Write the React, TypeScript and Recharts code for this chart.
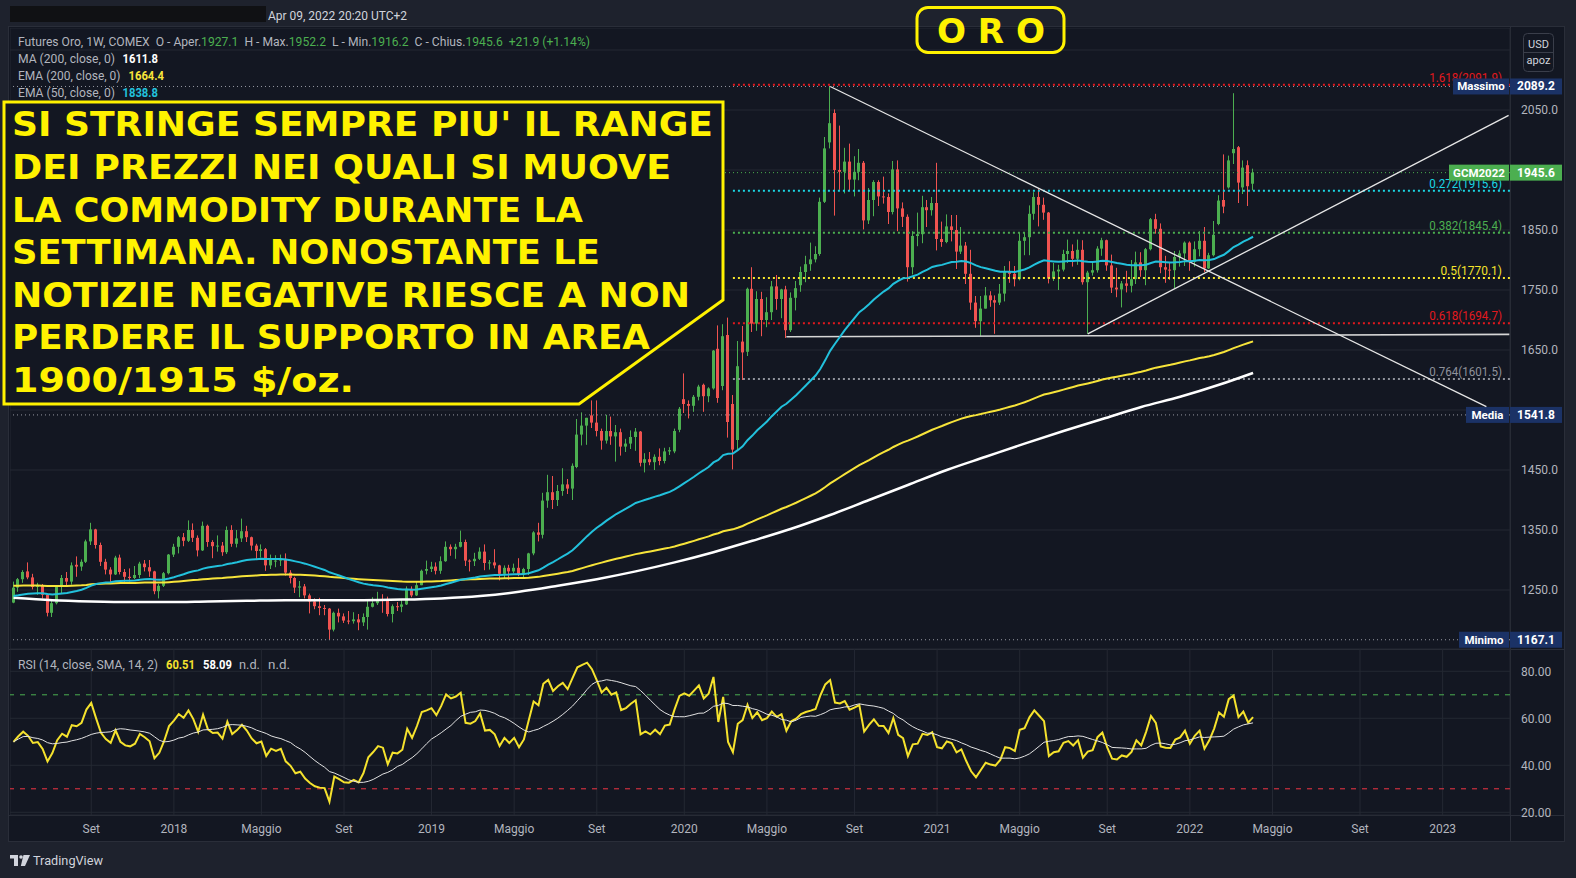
import React from "react";
import {
  ComposedChart,
  Bar,
  Line,
  XAxis,
  YAxis,
  CartesianGrid,
  ReferenceLine,
} from "recharts";

// Weekly bars (Monday dates) from 15 May 2017 to 4 Apr 2022
const FIRST_BAR = Date.UTC(2017, 4, 15);
const WEEK_MS = 7 * 24 * 60 * 60 * 1000;

const opens = [
  // 2017
  1229, 1254, 1268, 1281, 1271, 1255, 1257, 1242, 1212, 1228, 1255, 1270, 1264, 1292, 1289, 1297, 1331,
  1351, 1325, 1297, 1284, 1276, 1304, 1280, 1272, 1270, 1275, 1294, 1288, 1281, 1248, 1257, 1278,
  // 2018
  1309, 1322, 1338, 1332, 1350, 1337, 1316, 1357, 1330, 1323, 1324, 1313, 1350, 1327, 1336, 1348, 1338,
  1324, 1315, 1318, 1291, 1298, 1299, 1302, 1279, 1270, 1254, 1256, 1241, 1231, 1223, 1220, 1219, 1184,
  1212, 1206, 1199, 1198, 1201, 1196, 1205, 1222, 1228, 1235, 1233, 1210, 1223, 1222, 1226, 1252, 1241, 1258,
  // 2019
  1282, 1285, 1289, 1282, 1298, 1322, 1318, 1322, 1330, 1299, 1298, 1302, 1314, 1295, 1296, 1291, 1277,
  1287, 1281, 1287, 1276, 1285, 1311, 1346, 1342, 1399, 1413, 1400, 1415, 1426, 1419, 1455, 1509, 1524,
  1541, 1529, 1515, 1499, 1515, 1506, 1513, 1489, 1494, 1505, 1514, 1462, 1468, 1463, 1472, 1465, 1481, 1481,
  // 2020
  1517, 1568, 1560, 1557, 1572, 1592, 1573, 1586, 1652, 1590, 1675, 1560, 1500, 1664, 1647, 1752, 1694,
  1735, 1700, 1713, 1756, 1735, 1751, 1683, 1737, 1758, 1780, 1793, 1801, 1810, 1897, 1996, 2045, 1950,
  1947, 1964, 1934, 1947, 1962, 1866, 1900, 1930, 1906, 1905, 1880, 1951, 1886, 1872, 1788, 1840, 1843,
  1888, 1883,
  // 2021
  1895, 1835, 1830, 1856, 1850, 1814, 1824, 1777, 1729, 1698, 1719, 1741, 1733, 1729, 1744, 1780, 1777,
  1768, 1832, 1838, 1877, 1905, 1892, 1879, 1769, 1781, 1784, 1810, 1815, 1802, 1817, 1763, 1779, 1783,
  1819, 1833, 1791, 1754, 1751, 1761, 1757, 1768, 1796, 1783, 1818, 1868, 1852, 1788, 1784, 1783, 1805, 1811,
  // 2022
  1829, 1797, 1818, 1832, 1786, 1808, 1860, 1900, 1921, 1978, 1988, 1921, 1958, 1927.1,
];

const highs = [
  1264, 1270, 1283, 1296, 1277, 1262, 1260, 1244, 1232, 1257, 1275, 1280, 1296, 1306, 1301, 1334, 1362,
  1352, 1329, 1302, 1288, 1307, 1309, 1285, 1286, 1290, 1297, 1300, 1300, 1282, 1260, 1280, 1310,
  1327, 1340, 1345, 1366, 1361, 1341, 1364, 1359, 1333, 1341, 1330, 1356, 1358, 1350, 1369, 1357, 1339,
  1327, 1326, 1320, 1309, 1308, 1309, 1311, 1283, 1272, 1265, 1260, 1244, 1236, 1237, 1225, 1220, 1214,
  1219, 1211, 1215, 1213, 1210, 1211, 1233, 1238, 1247, 1243, 1239, 1226, 1230, 1233, 1256, 1256, 1265, 1284,
  1299, 1297, 1296, 1306, 1331, 1326, 1327, 1349, 1334, 1301, 1312, 1321, 1326, 1300, 1318, 1292, 1291,
  1292, 1294, 1303, 1287, 1312, 1348, 1362, 1412, 1442, 1440, 1425, 1453, 1435, 1461, 1535, 1546, 1537,
  1566, 1566, 1519, 1542, 1539, 1525, 1519, 1502, 1516, 1520, 1515, 1478, 1480, 1476, 1486, 1487, 1488, 1519,
  1555, 1611, 1566, 1575, 1592, 1594, 1588, 1650, 1691, 1693, 1704, 1575, 1665, 1690, 1754, 1788, 1748,
  1747, 1738, 1765, 1775, 1752, 1757, 1746, 1765, 1789, 1807, 1829, 1823, 1904, 2005, 2089.2, 2051, 2024,
  1987, 1994, 1973, 1985, 1965, 1920, 1933, 1933, 1939, 1911, 1965, 1966, 1896, 1876, 1848, 1879, 1907,
  1900, 1905,
  1962, 1864, 1876, 1875, 1875, 1855, 1830, 1817, 1740, 1740, 1755, 1748, 1741, 1760, 1790, 1798, 1790,
  1845, 1846, 1891, 1913, 1919, 1904, 1880, 1795, 1792, 1817, 1834, 1826, 1834, 1833, 1782, 1795, 1823,
  1837, 1834, 1809, 1787, 1765, 1782, 1800, 1814, 1813, 1820, 1870, 1877, 1861, 1807, 1795, 1815, 1816, 1831,
  1831, 1831, 1848, 1855, 1812, 1865, 1908, 1976, 1974, 2078, 1990, 1966, 1966, 1952.2,
];

const lows = [
  1228, 1247, 1262, 1268, 1251, 1242, 1236, 1206, 1205, 1226, 1244, 1256, 1259, 1272, 1282, 1295, 1325,
  1319, 1290, 1276, 1262, 1275, 1276, 1263, 1264, 1268, 1270, 1281, 1272, 1243, 1236, 1255, 1276,
  1305, 1311, 1323, 1330, 1330, 1306, 1315, 1322, 1303, 1314, 1307, 1310, 1322, 1321, 1330, 1330, 1316,
  1302, 1304, 1282, 1285, 1288, 1290, 1274, 1261, 1245, 1238, 1236, 1211, 1218, 1208, 1208, 1167.1, 1181,
  1196, 1195, 1193, 1194, 1183, 1190, 1184, 1221, 1225, 1212, 1206, 1196, 1215, 1213, 1225, 1238, 1240, 1258,
  1276, 1280, 1276, 1277, 1297, 1307, 1302, 1321, 1290, 1281, 1290, 1300, 1283, 1284, 1286, 1266, 1270,
  1267, 1278, 1273, 1270, 1275, 1308, 1331, 1336, 1387, 1385, 1390, 1407, 1410, 1400, 1453, 1491, 1492,
  1520, 1506, 1484, 1494, 1492, 1464, 1474, 1480, 1485, 1482, 1456, 1446, 1458, 1450, 1458, 1461, 1475, 1478,
  1513, 1545, 1536, 1547, 1566, 1547, 1563, 1584, 1562, 1583, 1504, 1451, 1482, 1600, 1640, 1680, 1682,
  1673, 1688, 1700, 1717, 1703, 1670, 1680, 1716, 1747, 1763, 1782, 1796, 1807, 1895, 1986, 1874, 1917,
  1911, 1916, 1906, 1933, 1851, 1860, 1873, 1890, 1894, 1860, 1876, 1848, 1855, 1764, 1776, 1823, 1828,
  1855, 1874,
  1816, 1822, 1828, 1831, 1785, 1810, 1760, 1717, 1687, 1673, 1719, 1722, 1677, 1725, 1731, 1762, 1756,
  1766, 1808, 1808, 1867, 1856, 1867, 1761, 1765, 1750, 1781, 1795, 1789, 1792, 1759, 1677, 1774, 1779,
  1807, 1782, 1745, 1738, 1721, 1746, 1746, 1760, 1772, 1758, 1816, 1844, 1778, 1762, 1767, 1753, 1789, 1790,
  1782, 1789, 1806, 1780, 1785, 1806, 1858, 1878, 1919, 1960, 1895, 1910, 1890, 1916.2,
];

const closes = [
  1254, 1268, 1280, 1271, 1255, 1257, 1242, 1212, 1228, 1255, 1270, 1264, 1291, 1289, 1297, 1331, 1351,
  1325, 1297, 1284, 1276, 1304, 1280, 1272, 1270, 1275, 1294, 1288, 1281, 1248, 1257, 1278, 1309,
  1322, 1338, 1332, 1350, 1337, 1316, 1357, 1330, 1323, 1324, 1313, 1350, 1327, 1336, 1348, 1338, 1324,
  1315, 1318, 1291, 1303, 1299, 1302, 1279, 1270, 1254, 1256, 1241, 1231, 1223, 1220, 1219, 1184, 1212,
  1206, 1199, 1198, 1201, 1196, 1205, 1222, 1228, 1235, 1233, 1210, 1223, 1222, 1226, 1252, 1241, 1258, 1282,
  1285, 1289, 1282, 1298, 1322, 1318, 1322, 1330, 1299, 1298, 1302, 1314, 1295, 1296, 1291, 1277, 1287,
  1281, 1287, 1276, 1285, 1311, 1346, 1342, 1399, 1413, 1400, 1415, 1426, 1419, 1457, 1509, 1524, 1537,
  1529, 1515, 1499, 1515, 1506, 1513, 1489, 1494, 1505, 1514, 1462, 1468, 1463, 1472, 1465, 1481, 1483, 1515,
  1552, 1560, 1557, 1572, 1589, 1573, 1586, 1649, 1570, 1673, 1530, 1484, 1623, 1646, 1752, 1694, 1735,
  1700, 1713, 1756, 1735, 1751, 1683, 1737, 1753, 1780, 1793, 1801, 1810, 1897, 1986, 2028, 1950, 1947,
  1964, 1934, 1947, 1962, 1866, 1900, 1930, 1906, 1905, 1880, 1951, 1886, 1872, 1788, 1840, 1843, 1888,
  1883, 1895,
  1835, 1830, 1856, 1850, 1814, 1824, 1777, 1729, 1698, 1719, 1741, 1733, 1729, 1744, 1780, 1777, 1768,
  1832, 1838, 1877, 1905, 1892, 1879, 1769, 1781, 1784, 1810, 1815, 1802, 1817, 1763, 1779, 1783, 1819,
  1833, 1791, 1754, 1751, 1761, 1757, 1768, 1796, 1783, 1818, 1868, 1852, 1788, 1784, 1783, 1805, 1811, 1829,
  1797, 1818, 1832, 1786, 1808, 1842, 1899, 1889, 1966, 1985, 1929, 1954, 1923, 1945.6,
];

// MA(200) sampled every 8th bar, last entry is the final bar
const MA200_STEP = 8;
const ma200Samples = [
  1237, 1233, 1231, 1230, 1230, 1231, 1232, 1233, 1233, 1233, 1234, 1236, 1240, 1247, 1257, 1268, 1281,
  1296, 1313, 1332, 1352, 1375, 1400, 1425, 1450, 1472, 1494, 1515, 1535, 1555, 1572, 1592, 1611.8,
];

// EMA starting levels at the first bar
const EMA50_START = 1240;
const EMA200_START = 1257;
const RSI_SEED_GAIN = 11;
const RSI_SEED_LOSS = 11;

const tickDates = [
  "2017-09-04", "2018-01-01", "2018-05-07", "2018-09-03", "2019-01-07", "2019-05-06", "2019-09-02",
  "2020-01-06", "2020-05-04", "2020-09-07", "2021-01-04", "2021-05-03", "2021-09-06", "2022-01-03",
  "2022-05-02", "2022-09-05", "2023-01-02",
];
const tickLabels = [
  "Set", "2018", "Maggio", "Set", "2019", "Maggio", "Set", "2020", "Maggio", "Set", "2021", "Maggio",
  "Set", "2022", "Maggio", "Set", "2023",
];

const priceTicks = [1250, 1350, 1450, 1550, 1650, 1750, 1850, 1950, 2050, 2150];
const coveredPriceTicks = [1550, 1950, 2150];
const rsiTicks = [20, 40, 60, 80];

const fibTexts = ["1.618(2091.9)", "0.272(1915.6)", "0.382(1845.4)", "0.5(1770.1)", "0.618(1694.7)", "0.764(1601.5)"];
const fibPrices = [2091.9, 1915.6, 1845.4, 1770.1, 1694.7, 1601.5];
const fibColors = ["#e3191e", "#1ad8e6", "#4caf50", "#f5e42b", "#e3191e", "#8f929b"];
const FIB_FROM = "2020-03-16";

const badgeNames = ["Massimo", "GCM2022", "Media", "Minimo"];
const badgePrices = [2089.2, 1945.6, 1541.8, 1167.1];
const badgeWidths = [56, 60, 43, 50];

// hand-drawn trend lines: [date, price] -> [date, price]
const trendLines: [string, number, string, number][] = [
  ["2020-08-03", 2089.2, "2023-03-06", 1555.5],
  ["2021-08-09", 1677, "2023-04-07", 2041],
];
const supportLine: [string, number, string, number] = ["2020-06-01", 1672, "2023-04-08", 1676];

// symbol legend: [text, colour key] pieces of the first line
const headerPieces: [string, "label" | "value"][] = [
  ["Futures Oro, 1W, COMEX  O - Aper.", "label"],
  ["1927.1", "value"],
  ["  H - Max.", "label"],
  ["1952.2", "value"],
  ["  L - Min.", "label"],
  ["1916.2", "value"],
  ["  C - Chius.", "label"],
  ["1945.6", "value"],
  ["  +21.9 (+1.14%)", "value"],
];

const noteLines = [
  "SI STRINGE SEMPRE PIU' IL RANGE",
  "DEI PREZZI NEI QUALI SI MUOVE",
  "LA COMMODITY DURANTE LA",
  "SETTIMANA. NONOSTANTE LE",
  "NOTIZIE NEGATIVE RIESCE A NON",
  "PERDERE IL SUPPORTO IN AREA",
  "1900/1915 $/oz.",
];
const noteWidths = [701, 659, 571, 588, 678, 638, 342];

const X_MIN = Date.UTC(2017, 4, 10);
const X_MAX = Date.UTC(2023, 3, 9);
const PRICE_MIN = 1151.67;
const PRICE_MAX = 2186.67;
const RSI_MIN = 18.85;
const RSI_MAX = 89.49;

const BG_OUTER = "#1e222d";
const BG_PANE = "#131722";
const BORDER = "#2a2e39";
const GRID = "#242833";
const TEXT = "#b2b5be";
const UP = "#4caf50";
const DOWN = "#f05350";
const NAVY = "#1b3266";
const NOTE_YELLOW = "#fff200";
const FONT = "Roboto, 'Noto Sans', sans-serif";

const tickTimes = tickDates.map((d) => Date.parse(d));

function emaSeries(values: number[], period: number, start: number) {
  const k = 2 / (period + 1);
  let prev = start;
  return values.map((v, i) => {
    if (i > 0) prev = prev + k * (v - prev);
    return prev;
  });
}

function rsiSeries(values: number[], period: number) {
  let gain = RSI_SEED_GAIN;
  let loss = RSI_SEED_LOSS;
  return values.map((v, i) => {
    if (i > 0) {
      const ch = v - values[i - 1];
      gain = (gain * (period - 1) + Math.max(ch, 0)) / period;
      loss = (loss * (period - 1) + Math.max(-ch, 0)) / period;
    }
    return loss === 0 ? 100 : 100 - 100 / (1 + gain / loss);
  });
}

function smaSeries(values: number[], period: number) {
  return values.map((_, i) => {
    const from = Math.max(0, i - period + 1);
    const part = values.slice(from, i + 1);
    return part.reduce((a, b) => a + b, 0) / part.length;
  });
}

const ema50 = emaSeries(closes, 50, EMA50_START);
const ema200 = emaSeries(closes, 200, EMA200_START);
const rsi = rsiSeries(closes, 14);
const rsiSma = smaSeries(rsi, 14);
const lastBar = closes.length - 1;

const rows = closes.map((c, i) => {
  let ma200: number | null = null;
  if (i === lastBar) ma200 = ma200Samples[ma200Samples.length - 1];
  else if (i % MA200_STEP === 0) ma200 = ma200Samples[i / MA200_STEP];
  return {
    t: FIRST_BAR + i * WEEK_MS,
    o: opens[i],
    h: highs[i],
    l: lows[i],
    c,
    range: [lows[i], highs[i]],
    ema50: ema50[i],
    ema200: ema200[i],
    ma200,
    rsi: rsi[i],
    rsiSma: rsiSma[i],
  };
});

function renderCandle(props: any) {
  const { x, y, width, height, payload } = props;
  if (x == null || y == null || !payload) return <g />;
  const { o, h, l, c } = payload;
  const color = c >= o ? UP : DOWN;
  const span = h - l;
  const k = span > 0 ? height / span : 0;
  const top = y + (h - Math.max(o, c)) * k;
  const bottom = y + (h - Math.min(o, c)) * k;
  const left = Math.floor(x + width / 2 - 1.5);
  return (
    <g>
      <rect x={left + 1} y={y} width={1} height={Math.max(height, 1)} fill={color} />
      <rect x={left} y={top} width={3} height={Math.max(bottom - top, 1)} fill={color} />
    </g>
  );
}

function PriceBadge(props: any) {
  const { viewBox, tag, amount, boxColor, boxW } = props;
  if (!viewBox) return null;
  const right = viewBox.x + viewBox.width;
  const y = viewBox.y;
  return (
    <g>
      <rect x={right - boxW - 1} y={y - 8} width={boxW} height={16} fill={boxColor} />
      <text
        x={right - 1 - boxW / 2}
        y={y + 4}
        fill="#ffffff"
        fontSize={11.5}
        fontWeight={700}
        fontFamily={FONT}
        textAnchor="middle"
      >
        {tag}
      </text>
      <rect x={right} y={y - 8} width={52} height={16} fill={boxColor} />
      <text x={right + 26} y={y + 4} fill="#ffffff" fontSize={12} fontWeight={700} fontFamily={FONT} textAnchor="middle">
        {amount}
      </text>
    </g>
  );
}

function FibTag(props: any) {
  const { viewBox, caption, tone } = props;
  if (!viewBox) return null;
  const right = viewBox.x + viewBox.width - 8;
  return (
    <text
      x={right}
      y={viewBox.y - 3}
      fill={tone}
      fontSize={12}
      fontFamily={FONT}
      textAnchor="end"
      textLength={caption.length * 5.6}
      lengthAdjust="spacingAndGlyphs"
    >
      {caption}
    </text>
  );
}

function Txt({ x, y, w, color, bold, children }: any) {
  return (
    <text
      x={x}
      y={y}
      fill={color}
      fontSize={12}
      fontWeight={bold ? 700 : 400}
      fontFamily={FONT}
      textLength={w}
      lengthAdjust="spacingAndGlyphs"
    >
      {children}
    </text>
  );
}

export default function App() {
  const labelFor = (t: number) => {
    const idx = tickTimes.indexOf(t);
    return idx >= 0 ? tickLabels[idx] : "";
  };

  return (
    <div
      style={{
        position: "absolute",
        left: 0,
        top: 0,
        width: 1576,
        height: 878,
        background: BG_OUTER,
        overflow: "hidden",
        fontFamily: FONT,
      }}
    >
      {/* chart frame and pane separators */}
      <div
        style={{
          position: "absolute",
          left: 8,
          top: 26,
          width: 1557,
          height: 816,
          background: BG_PANE,
          boxSizing: "border-box",
          border: `1px solid ${BORDER}`,
        }}
      />
      <div style={{ position: "absolute", left: 1510, top: 26, width: 1, height: 816, background: BORDER }} />
      <div style={{ position: "absolute", left: 8, top: 649, width: 1557, height: 1, background: BORDER }} />
      <div style={{ position: "absolute", left: 8, top: 815, width: 1557, height: 1, background: BORDER }} />

      {/* price pane */}
      <div style={{ position: "absolute", left: 10, top: 28 }}>
        <ComposedChart width={1555} height={621} data={rows} margin={{ top: 0, right: 0, bottom: 0, left: 0 }}>
          <CartesianGrid stroke={GRID} />
          <XAxis
            dataKey="t"
            type="number"
            domain={[X_MIN, X_MAX]}
            ticks={tickTimes}
            tick={false}
            tickLine={false}
            axisLine={false}
            height={0}
            allowDataOverflow
          />
          <YAxis
            orientation="right"
            width={55}
            domain={[PRICE_MIN, PRICE_MAX]}
            ticks={priceTicks}
            allowDataOverflow
            axisLine={false}
            tickLine={false}
            tickMargin={5}
            tick={{ fill: TEXT, fontSize: 12, fontFamily: FONT }}
            tickFormatter={(v: number) => (coveredPriceTicks.includes(v) ? "" : v.toFixed(1))}
          />

          {fibPrices.map((p, i) => (
            <ReferenceLine
              key={fibTexts[i]}
              segment={[
                { x: Date.parse(FIB_FROM), y: p },
                { x: X_MAX, y: p },
              ]}
              ifOverflow="visible"
              stroke={fibColors[i]}
              strokeWidth={2}
              strokeDasharray="2 3"
              label={<FibTag caption={fibTexts[i]} tone={fibColors[i]} />}
            />
          ))}

          {badgePrices.map((p, i) => (
            <ReferenceLine
              key={badgeNames[i]}
              y={p}
              stroke={i === 1 ? UP : "#9598a1"}
              strokeWidth={1}
              strokeDasharray="1 3"
              label={
                <PriceBadge
                  tag={badgeNames[i]}
                  amount={p.toFixed(1)}
                  boxColor={i === 1 ? UP : NAVY}
                  boxW={badgeWidths[i]}
                />
              }
            />
          ))}

          <ReferenceLine
            segment={[
              { x: Date.parse(supportLine[0]), y: supportLine[1] },
              { x: Date.parse(supportLine[2]), y: supportLine[3] },
            ]}
            ifOverflow="visible"
            stroke="#d6d6d6"
            strokeWidth={1.6}
          />
          {trendLines.map((tl, i) => (
            <ReferenceLine
              key={`trend-${i}`}
              segment={[
                { x: Date.parse(tl[0]), y: tl[1] },
                { x: Date.parse(tl[2]), y: tl[3] },
              ]}
              ifOverflow="visible"
              stroke="#e6e6e6"
              strokeWidth={1.3}
            />
          ))}

          <Bar dataKey="range" barSize={3} shape={renderCandle} isAnimationActive={false} />
          <Line
            dataKey="ma200"
            type="monotone"
            connectNulls
            stroke="#ffffff"
            strokeWidth={2.5}
            dot={false}
            isAnimationActive={false}
          />
          <Line dataKey="ema200" type="linear" stroke="#f7e43a" strokeWidth={2} dot={false} isAnimationActive={false} />
          <Line dataKey="ema50" type="linear" stroke="#22c1dc" strokeWidth={2} dot={false} isAnimationActive={false} />
        </ComposedChart>
      </div>

      {/* RSI pane with the time axis */}
      <div style={{ position: "absolute", left: 10, top: 649 }}>
        <ComposedChart width={1555} height={193} data={rows} margin={{ top: 0, right: 0, bottom: 0, left: 0 }}>
          <CartesianGrid stroke={GRID} />
          <XAxis
            dataKey="t"
            type="number"
            domain={[X_MIN, X_MAX]}
            ticks={tickTimes}
            interval={0}
            tickFormatter={labelFor}
            tick={{ fill: TEXT, fontSize: 12, fontFamily: FONT }}
            tickLine={false}
            axisLine={false}
            tickMargin={3}
            height={27}
            allowDataOverflow
          />
          <YAxis
            orientation="right"
            width={55}
            domain={[RSI_MIN, RSI_MAX]}
            ticks={rsiTicks}
            allowDataOverflow
            axisLine={false}
            tickLine={false}
            tickMargin={5}
            tick={{ fill: TEXT, fontSize: 12, fontFamily: FONT }}
            tickFormatter={(v: number) => v.toFixed(2)}
          />
          <ReferenceLine y={70} stroke={UP} strokeDasharray="5 6" />
          <ReferenceLine y={30} stroke="#f23645" strokeDasharray="5 6" />
          <Line dataKey="rsi" type="linear" stroke="#f5e22d" strokeWidth={2} dot={false} isAnimationActive={false} />
          <Line dataKey="rsiSma" type="linear" stroke="#e2e2e2" strokeWidth={1} dot={false} isAnimationActive={false} />
        </ComposedChart>
      </div>

      {/* header, legends and annotations */}
      <svg
        width={1576}
        height={878}
        style={{ position: "absolute", left: 0, top: 0, pointerEvents: "none" }}
      >
        <rect x={10} y={6} width={256} height={16} fill="#101114" />
        <Txt x={268} y={19.5} w={139} color="#d1d4dc">Apr 09, 2022 20:20 UTC+2</Txt>

        <text
          x={18}
          y={46}
          fontSize={12}
          fontFamily={FONT}
          textLength={572}
          lengthAdjust="spacingAndGlyphs"
          xmlSpace="preserve"
          style={{ whiteSpace: "pre" }}
        >
          {headerPieces.map(([s, kind], i) => (
            <tspan key={i} fill={kind === "value" ? UP : TEXT}>
              {s}
            </tspan>
          ))}
        </text>

        <Txt x={18} y={63} w={97} color={TEXT}>MA (200, close, 0)</Txt>
        <Txt x={122.5} y={63} w={35.5} color="#ffffff" bold>1611.8</Txt>
        <Txt x={18} y={80.3} w={102.5} color={TEXT}>EMA (200, close, 0)</Txt>
        <Txt x={128.5} y={80.3} w={35.5} color="#f7e43a" bold>1664.4</Txt>
        <Txt x={18} y={97} w={97} color={TEXT}>EMA (50, close, 0)</Txt>
        <Txt x={122.5} y={97} w={35.5} color="#22c1dc" bold>1838.8</Txt>

        {/* title */}
        <rect x={917} y={7.5} width={147} height={45} rx={11} fill="none" stroke={NOTE_YELLOW} strokeWidth={3} />
        <text
          x={991}
          y={42.7}
          fill={NOTE_YELLOW}
          fontSize={33.5}
          fontWeight={700}
          fontFamily="'DejaVu Sans', sans-serif"
          textAnchor="middle"
          textLength={108}
          lengthAdjust="spacingAndGlyphs"
        >
          O R O
        </text>

        {/* comment box */}
        <polygon
          points="4,102 723,102 723,300 579,404 4,404"
          fill={BG_PANE}
          stroke={NOTE_YELLOW}
          strokeWidth={3}
        />
        {noteLines.map((line, i) => (
          <text
            key={line}
            x={12}
            y={136.3 + i * 42.6}
            fill={NOTE_YELLOW}
            fontSize={33}
            fontWeight={700}
            fontFamily="'DejaVu Sans', sans-serif"
            textLength={noteWidths[i]}
            lengthAdjust="spacingAndGlyphs"
          >
            {line}
          </text>
        ))}

        {/* currency button */}
        <rect x={1523.5} y={33.5} width={30} height={38} rx={4} fill={BG_PANE} stroke="#3a3e4a" />
        <line x1={1523.5} x2={1553.5} y1={52.5} y2={52.5} stroke="#3a3e4a" />
        <text x={1538.5} y={48} fill="#d1d4dc" fontSize={11} fontFamily={FONT} textAnchor="middle">USD</text>
        <text x={1538.5} y={64} fill="#d1d4dc" fontSize={11} fontFamily={FONT} textAnchor="middle">apoz</text>

        {/* RSI legend */}
        <Txt x={18} y={669} w={140} color={TEXT}>RSI (14, close, SMA, 14, 2)</Txt>
        <Txt x={166} y={669} w={29} color="#f5e22d" bold>60.51</Txt>
        <Txt x={203} y={669} w={29} color="#ffffff" bold>58.09</Txt>
        <Txt x={239} y={669} w={21} color={TEXT}>n.d.</Txt>
        <Txt x={268} y={669} w={22} color={TEXT}>n.d.</Txt>

        {/* footer logo */}
        <rect x={10} y={855} width={8} height={3.5} fill="#d1d4dc" />
        <rect x={14} y={855} width={4} height={11} fill="#d1d4dc" />
        <circle cx={21} cy={857} r={1.8} fill="#d1d4dc" />
        <polygon points="23.5,855 30,855 25,866 20.8,866" fill="#d1d4dc" />
        <text
          x={33}
          y={865}
          fill="#d1d4dc"
          fontSize={12.5}
          fontFamily={FONT}
          textLength={70}
          lengthAdjust="spacingAndGlyphs"
        >
          TradingView
        </text>
      </svg>
    </div>
  );
}
